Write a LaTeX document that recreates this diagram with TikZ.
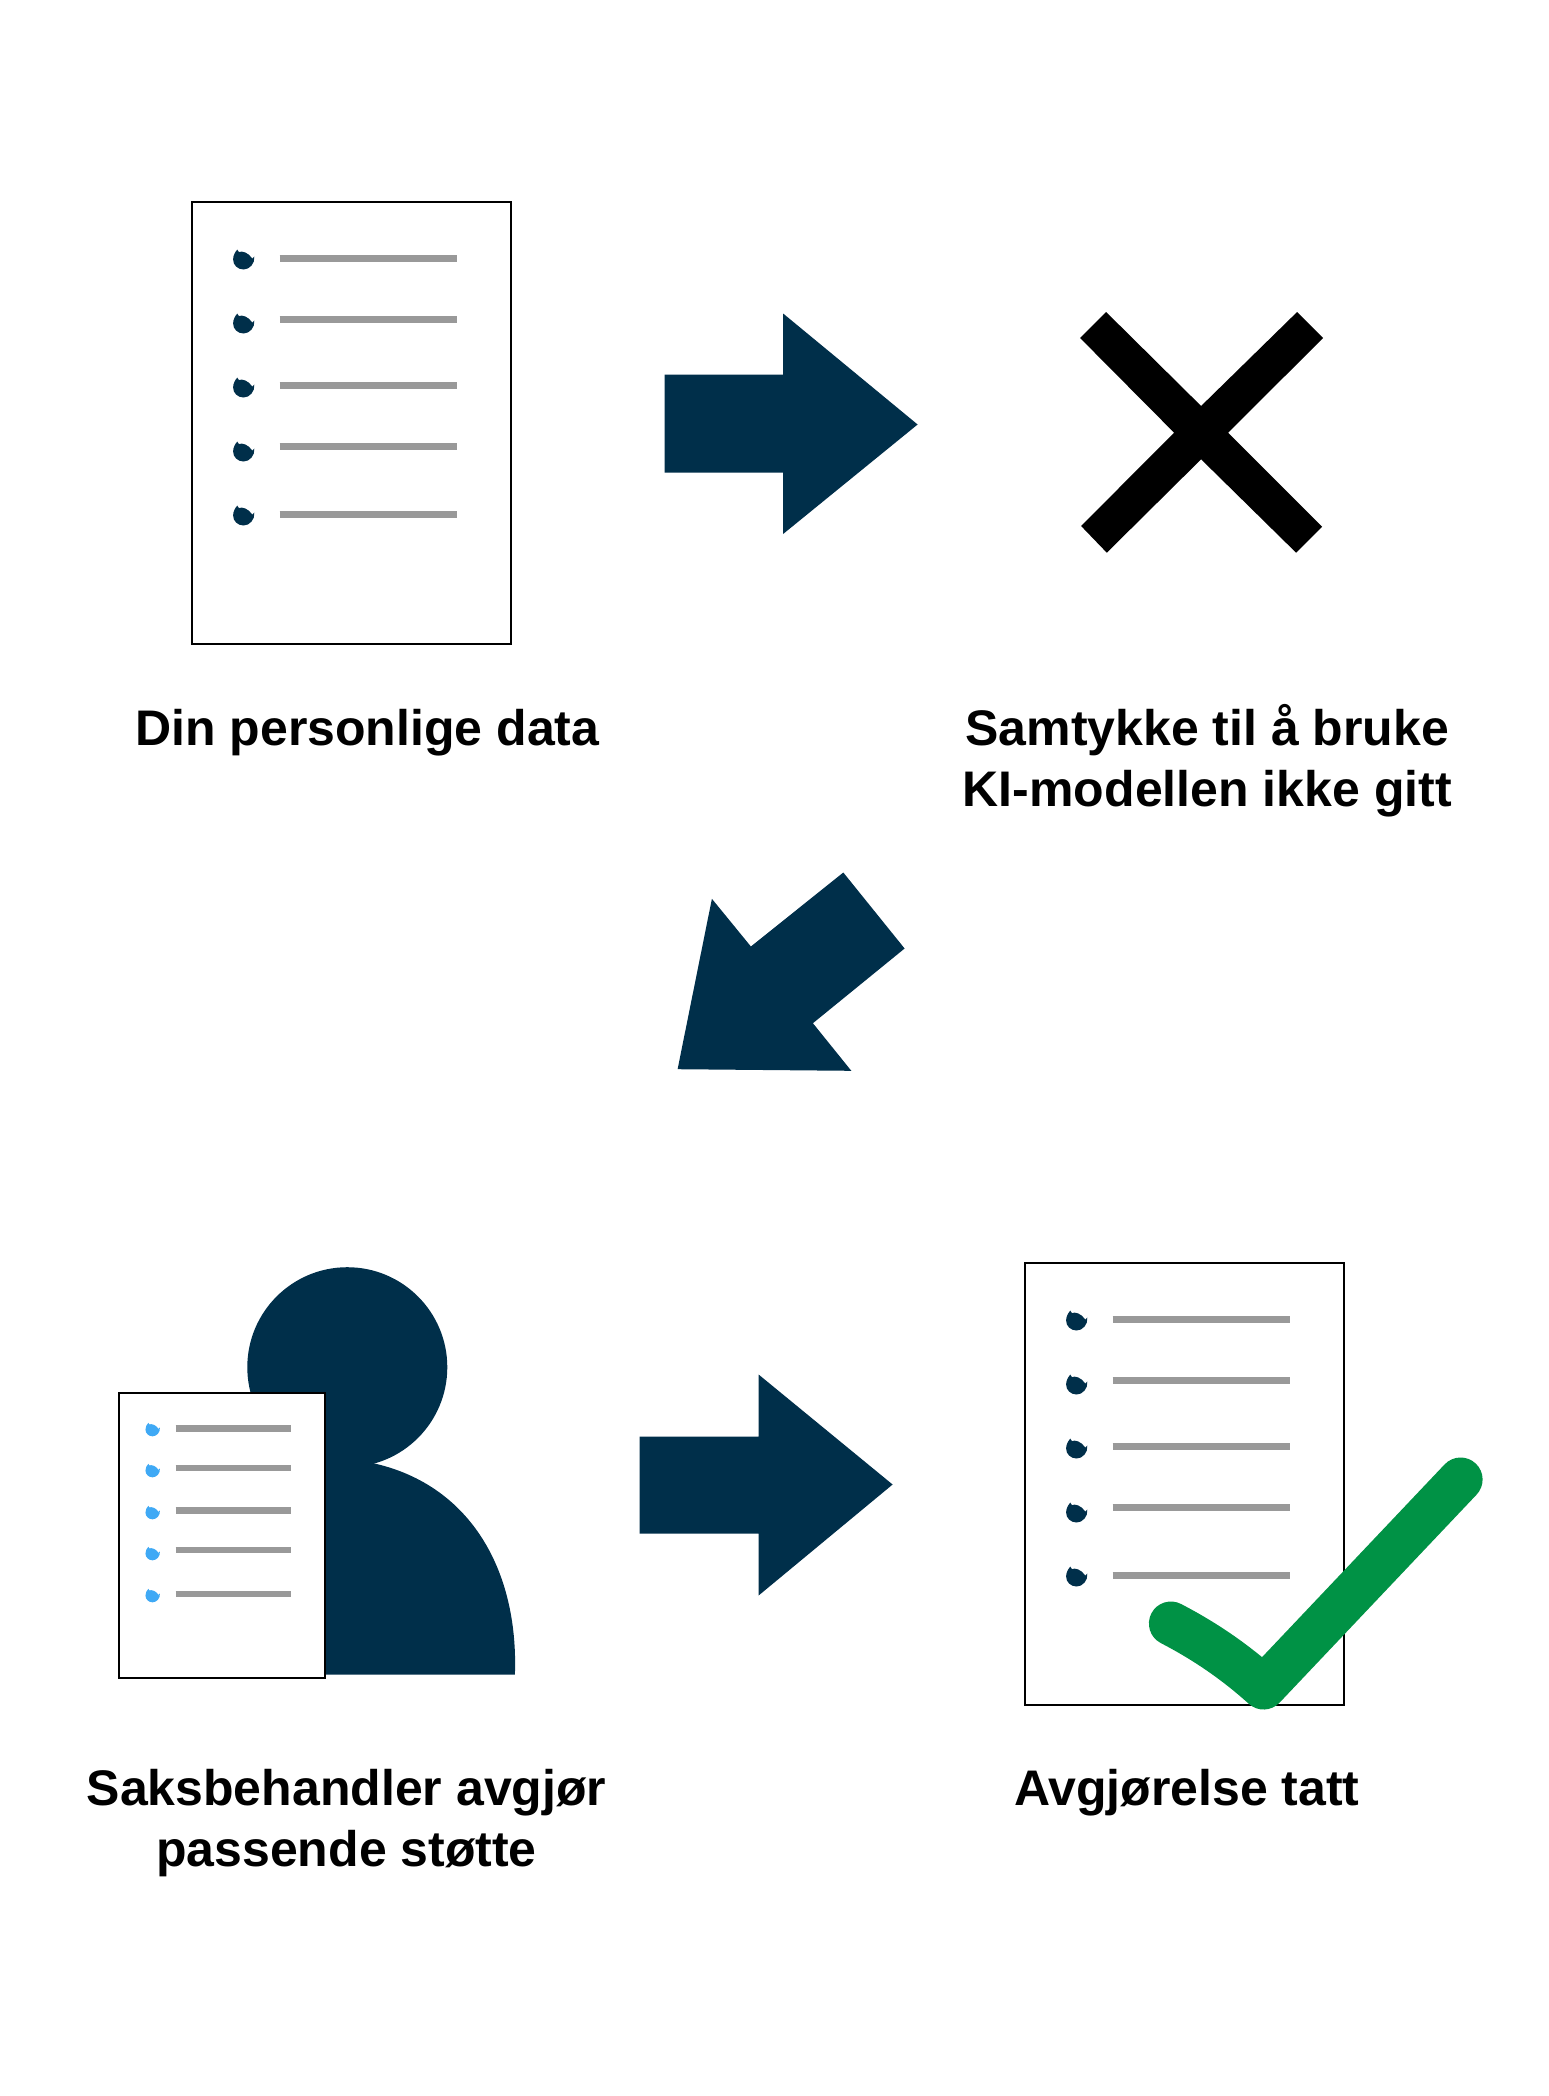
\documentclass[tikz,border=0pt]{standalone}
\usepackage{fontspec}
\setmainfont{Liberation Sans}
\definecolor{navy}{HTML}{002F4A}
\definecolor{rulegrey}{HTML}{999999}
\definecolor{skyblue}{HTML}{3FA9F5}
\definecolor{tickgreen}{HTML}{009245}
\tikzset{
  x=1pt,y=-1pt,
  page/.style={draw=black,line width=2pt,fill=white},
  rowline/.style={draw=rulegrey,line width=6.4pt},
  solidnavy/.style={fill=navy,draw=none},
  caption/.style={font=\bfseries\fontsize{50}{61}\selectfont,align=center,inner sep=0pt,text=black},
  pics/bullet/.style={code={
    \fill[#1] (-6.3,-9.9) -- (-4.7,-7.4) .. controls (-2,-9) and (5,-7) .. (8.7,-0.9) -- (10.7,-3)
      .. controls (11.5,4) and (6,10) .. (0,10) .. controls (-6,10) and (-10.5,5.5) .. (-10.5,0) .. controls (-10.5,-4) and (-8.5,-7.5) .. (-6.3,-9.9) -- cycle;
  }}
}
\begin{document}
\begin{tikzpicture}
\useasboundingbox (0,0) rectangle (1548,2096);
\fill[white] (0,0) rectangle (1548,2096);
\begin{scope}[shift={(0.6,0.5)}]
% first document
\draw[page] (191,201) rectangle (510,643);
\foreach \by/\ly in {259/258,323/319,387/385,451/446,515/514}{
  \pic at (243,\by) {bullet=navy};
  \draw[rowline] (279,\ly) -- (456,\ly);
}
% arrow 1
\fill[solidnavy] (664,374) -- (782.5,374) -- (782.5,313) -- (917,424) -- (782.5,533.5) -- (782.5,472) -- (664,472) -- cycle;
% cross
\fill[black] (1079.5,337.5) -- (1105.5,311.5) -- (1200.5,405.5) -- (1296.5,311.5) -- (1322.5,337.5) -- (1227.5,432.2) -- (1321.5,526.2) -- (1295.5,552.2) -- (1200.5,458.8) -- (1106.2,552.2) -- (1080.5,525.5) -- (1173.5,432.2) -- cycle;
% diagonal arrow
\fill[solidnavy] (842.7,872) -- (904,948) -- (812.3,1022.7) -- (850.7,1070.3) -- (677,1068.7) -- (711.3,898.3) -- (750.3,946) -- cycle;
% person
\fill[navy] (346.7,1366.7) circle[radius=100];
\fill[navy] (374,1463) .. controls (470,1485) and (518,1570) .. (514.3,1674) -- (260,1674) -- (260,1420) -- cycle;
\draw[page] (118,1392) rectangle (324,1677);
\foreach \by/\ly in {1429/1428,1470/1467.5,1512/1510,1553/1549.7,1595/1593.7}{
  \pic[scale=.68] at (152,\by) {bullet=skyblue};
  \draw[rowline] (175,\ly) -- (290,\ly);
}
% arrow 2
\fill[solidnavy] (639,1436) -- (758,1436) -- (758,1374) -- (892,1484) -- (758,1595) -- (758,1533) -- (639,1533) -- cycle;
% second document
\draw[page] (1024,1262) rectangle (1343,1704);
\foreach \by/\ly in {1320/1319,1384/1380,1448/1446,1512/1507,1576/1575}{
  \pic at (1076,\by) {bullet=navy};
  \draw[rowline] (1112,\ly) -- (1289,\ly);
}
% tick
\draw[tickgreen,line width=44pt,line cap=round,line join=round] (1170.3,1623) .. controls (1203,1640) and (1233,1660) .. (1263,1687) -- (1460,1479);
\end{scope}
% captions
\node[caption,anchor=base] (cap1) at (367.3,745) {Din personlige data};
\node[caption,anchor=base] (cap2a) at (1207.3,745) {Samtykke til å bruke};
\node[caption,anchor=base] (cap2b) at (1207.3,806) {KI-modellen ikke gitt};
\node[caption,anchor=base] (cap3a) at (346.5,1805) {Saksbehandler avgjør};
\node[caption,anchor=base] (cap3b) at (346.5,1866) {passende støtte};
\node[caption,anchor=base] (cap4) at (1186.8,1805) {Avgjørelse tatt};
\end{tikzpicture}
\end{document}
